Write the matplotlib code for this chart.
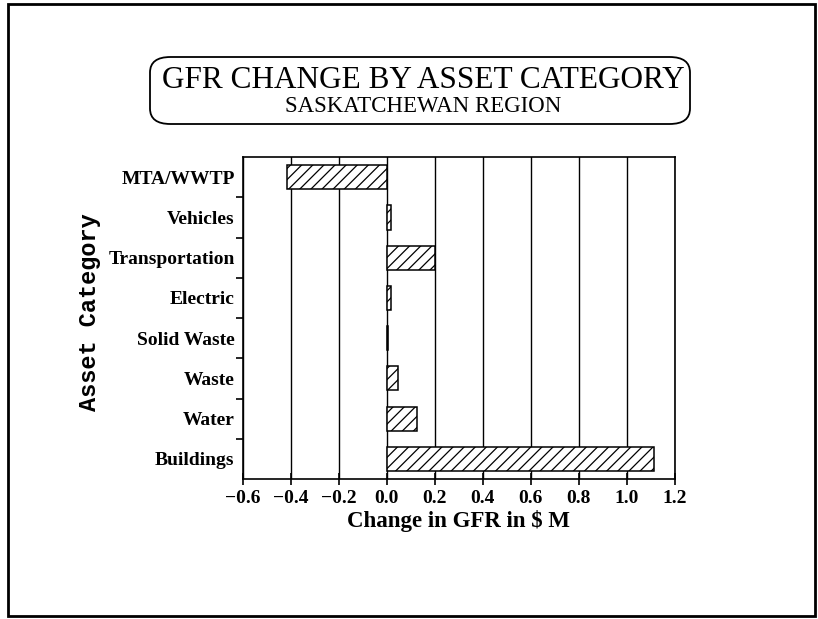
import matplotlib
matplotlib.use("Agg")
import matplotlib.pyplot as plt
from matplotlib.patches import FancyBboxPatch, Rectangle
from matplotlib.ticker import FixedLocator

# data, bottom row first
categories = ["Buildings", "Water", "Waste", "Solid Waste", "Electric",
              "Transportation", "Vehicles", "MTA/WWTP"]
gfr_change = [1.115, 0.125, 0.045, 0.005, 0.015, 0.2, 0.015, -0.415]
x_ticks = [-0.6, -0.4, -0.2, 0.0, 0.2, 0.4, 0.6, 0.8, 1.0, 1.2]

plt.rcParams["font.family"] = ["Liberation Serif", "DejaVu Serif"]
plt.rcParams["hatch.linewidth"] = 0.9

fig = plt.figure(figsize=(8.18, 6.19), dpi=100)
ax = fig.add_axes([0.297, 0.2262, 0.528, 0.520])

ypos = list(range(len(categories)))
ax.barh(ypos, gfr_change, height=0.6, color="white", edgecolor="black",
        linewidth=1.1, hatch="///", zorder=3)

ax.set_xlim(-0.6, 1.2)
ax.set_ylim(-0.5, len(categories) - 0.5)
ax.set_xticks(x_ticks)
ax.set_xticklabels([f"{t:.1f}".replace("-", "\u2212") for t in x_ticks],
                   fontsize=14, fontweight="bold")
ax.grid(axis="x", color="black", linewidth=1.0, zorder=1)

ax.set_yticks(ypos)
ax.set_yticklabels(categories, fontsize=14, fontweight="bold")
ax.tick_params(axis="y", which="major", length=0, pad=6)
ax.yaxis.set_minor_locator(FixedLocator([i + 0.5 for i in ypos[:-1]]))
ax.tick_params(axis="y", which="minor", length=5, width=1.2, direction="out")
ax.tick_params(axis="x", direction="inout", length=8, width=1.2, pad=4)

for s in ax.spines.values():
    s.set_linewidth(1.2)

ax.set_xlabel("Change in GFR in $ M", fontsize=16.5, fontweight="bold")
ax.xaxis.set_label_coords(0.5, -0.097)
ax.set_ylabel("Asset Category", fontsize=17, fontweight="bold",
              family="Liberation Mono")
ax.yaxis.set_label_coords(-0.329, 0.519)

# title in a rounded box
fig.patches.append(FancyBboxPatch((150 / 818, 1 - 124 / 619), 540 / 818, 67 / 619,
                                  boxstyle="round,pad=0,rounding_size=0.025",
                                  transform=fig.transFigure, facecolor="none",
                                  edgecolor="black", linewidth=1.3))
fig.text(0.517, 1 - 81 / 619, "GFR CHANGE BY ASSET CATEGORY", ha="center",
         va="center", fontsize=22.5)
fig.text(0.517, 1 - 107 / 619, "SASKATCHEWAN REGION", ha="center",
         va="center", fontsize=16.5)

# outer frame
fig.patches.append(Rectangle((8 / 818, 3 / 619), 807 / 818, 612 / 619,
                             transform=fig.transFigure, fill=False,
                             edgecolor="black", linewidth=2))

fig.savefig("out.png", dpi=100)
